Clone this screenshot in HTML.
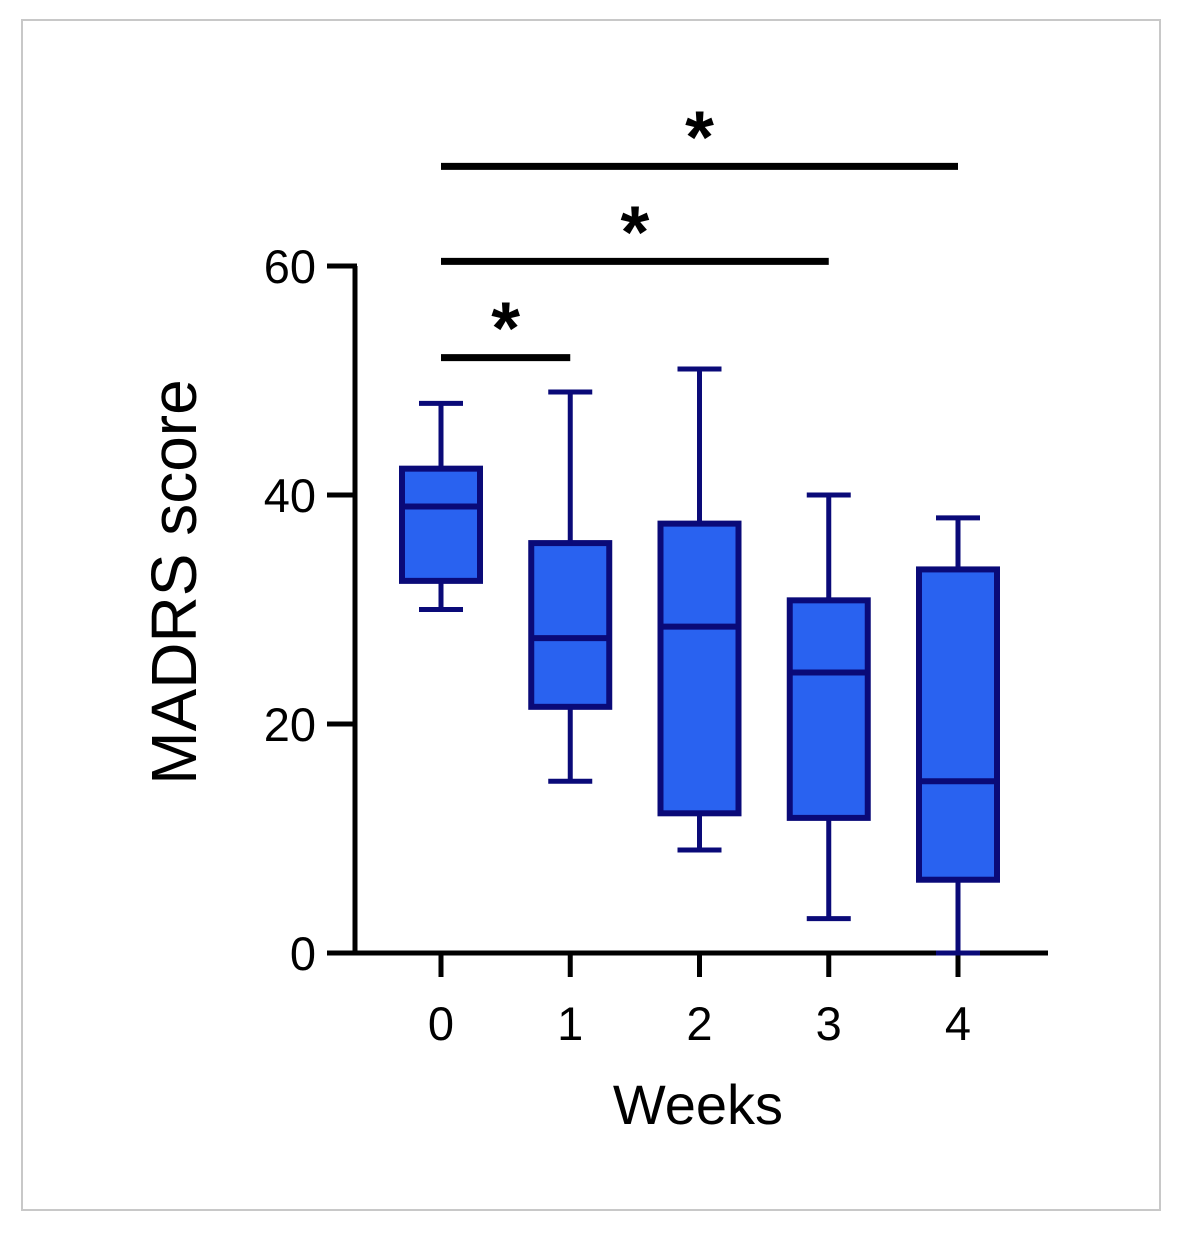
<!DOCTYPE html>
<html><head><meta charset="utf-8"><style>
body{margin:0;background:#fff;}
svg text{font-family:"Liberation Sans",Arial,sans-serif;fill:#000;}
</style></head><body>
<svg width="1183" height="1230" viewBox="0 0 1183 1230">
<rect x="22" y="20" width="1138" height="1190" fill="#fff" stroke="#c8c8c8" stroke-width="2"/>
<g id="plot"></g>
</svg>
<script>
const weeks=["0","1","2","3","4"];
const whiskerLow=[30,15,9,3,0];
const q1=[32.5,21.5,12.2,11.8,6.4];
const medians=[39,27.5,28.5,24.5,15];
const q3=[42.3,35.8,37.5,30.8,33.5];
const whiskerHigh=[48,49,51,40,38];
const yTicks=[0,20,40,60];
const sigFrom=[0,0,0];
const sigTo=[1,3,4];
const sigY=[52,60.4,68.7];
const ns="http://www.w3.org/2000/svg";
const g=document.getElementById('plot');
function y(v){return 953-v*11.45;}
function x(i){return 441+i*129.25;}
function el(t,a,p){const e=document.createElementNS(ns,t);for(const k in a)e.setAttribute(k,a[k]);(p||g).appendChild(e);return e;}
const navy="#0a0a78";
let ax=el('line',{x1:355,y1:y(60),x2:355,y2:y(0)+2,stroke:"#000","stroke-width":5});


let bx=el('line',{x1:353,y1:y(0),x2:1048,y2:y(0),stroke:"#000","stroke-width":5});


yTicks.forEach(t=>{
 let l=el('line',{x1:327,y1:y(t),x2:357,y2:y(t),stroke:"#000","stroke-width":5});
 
 
 let tx=el('text',{x:316,y:y(t)+17,"font-size":47,"text-anchor":"end"});
 tx.textContent=t;
 
 
});
weeks.forEach((w,i)=>{
 let l=el('line',{x1:x(i),y1:y(0),x2:x(i),y2:y(0)+24,stroke:"#000","stroke-width":5});
 
 
 let tx=el('text',{x:x(i),y:1040,"font-size":47,"text-anchor":"middle"});
 tx.textContent=w;
 
 
});
let xt=el('text',{x:698,y:1124,"font-size":56,"text-anchor":"middle"});
xt.textContent="Weeks";


let yt=el('text',{x:0,y:0,"font-size":64,"text-anchor":"middle",transform:"translate(196,582) rotate(-90)"});
yt.textContent="MADRS score";


weeks.forEach((w,i)=>{
 const bg=el('g',{});
 
 
 const cx=x(i);
 el('line',{x1:cx,y1:y(whiskerHigh[i]),x2:cx,y2:y(q3[i]),stroke:navy,"stroke-width":5},bg);
 el('line',{x1:cx,y1:y(q1[i]),x2:cx,y2:y(whiskerLow[i]),stroke:navy,"stroke-width":5},bg);
 el('line',{x1:cx-22,y1:y(whiskerHigh[i]),x2:cx+22,y2:y(whiskerHigh[i]),stroke:navy,"stroke-width":5},bg);
 el('line',{x1:cx-22,y1:y(whiskerLow[i]),x2:cx+22,y2:y(whiskerLow[i]),stroke:navy,"stroke-width":5},bg);
 el('rect',{x:cx-39,y:y(q3[i]),width:78,height:y(q1[i])-y(q3[i]),fill:"#2962f0",stroke:navy,"stroke-width":6},bg);
 el('line',{x1:cx-39,y1:y(medians[i]),x2:cx+39,y2:y(medians[i]),stroke:navy,"stroke-width":6},bg);
});
sigFrom.forEach((f,k)=>{
 let l=el('line',{x1:x(f),y1:y(sigY[k]),x2:x(sigTo[k]),y2:y(sigY[k]),stroke:"#000","stroke-width":7});
 
 
 let s=el('text',{x:(x(f)+x(sigTo[k]))/2,y:y(sigY[k])-4,"font-size":74,"font-weight":"bold","text-anchor":"middle"});
 s.textContent="*";
 
 
});
</script>
</body></html>
